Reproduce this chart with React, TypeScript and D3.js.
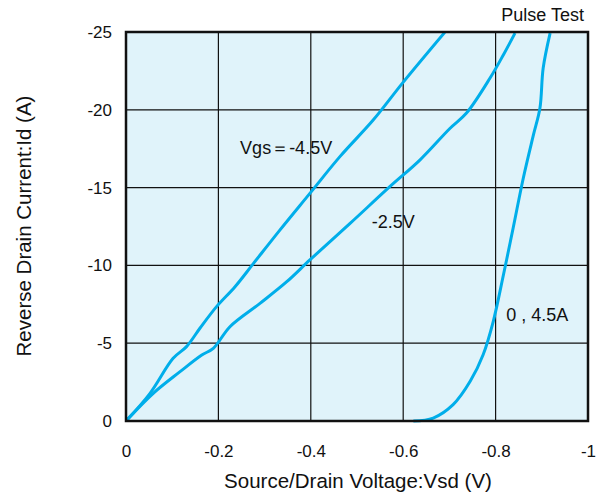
import { useRef, useEffect } from 'react'
import * as d3 from 'd3'

// [Vsd (V), Id (A)]
const vgs45: [number, number][] = [
  [0, 0], [-0.052, -1.78], [-0.102, -4.03], [-0.131, -4.78], [-0.16, -5.96], [-0.196, -7.35],
  [-0.236, -8.63], [-0.276, -10.13], [-0.333, -12.27], [-0.398, -14.63], [-0.463, -16.99],
  [-0.535, -19.34], [-0.598, -21.7], [-0.69, -24.98],
]
const vgs25: [number, number][] = [
  [0, 0], [-0.059, -1.78], [-0.117, -3.17], [-0.164, -4.24], [-0.189, -4.67], [-0.225, -6.06],
  [-0.29, -7.56], [-0.348, -8.95], [-0.398, -10.35], [-0.485, -12.7], [-0.571, -15.06],
  [-0.636, -16.77], [-0.701, -18.8], [-0.737, -19.79], [-0.788, -22.04], [-0.817, -23.54],
  [-0.842, -24.93],
]
const vgs0: [number, number][] = [
  [-0.622, 0], [-0.665, -0.19], [-0.708, -1.05], [-0.745, -2.55], [-0.773, -4.26],
  [-0.795, -6.41], [-0.817, -9.4], [-0.838, -12.4], [-0.86, -15.62], [-0.882, -18.4],
  [-0.896, -20.12], [-0.903, -22.69], [-0.918, -24.93],
]

const xTicks = [0, -0.2, -0.4, -0.6, -0.8, -1]
const yTicks = [0, -5, -10, -15, -20, -25]

const labels = [
  { text: 'Vgs＝-4.5V', x: -0.247, y: -17.16 },
  { text: '-2.5V', x: -0.532, y: -12.4 },
  { text: '0 , 4.5A', x: -0.823, y: -6.43 },
]

const FONT = 'Liberation Sans, Arial, sans-serif'
const BLUE = '#00aeea'

export default function App() {
  const svgRef = useRef<SVGSVGElement>(null)

  useEffect(() => {
    if (!svgRef.current) return
    const svg = d3.select(svgRef.current)
    svg.selectAll('*').remove()

    const width = 603
    const height = 497
    const margin = { top: 32, right: 15, bottom: 76, left: 126 }
    const innerW = width - margin.left - margin.right
    const innerH = height - margin.top - margin.bottom

    svg.attr('width', width).attr('height', height)
    const g = svg.append('g').attr('transform', `translate(${margin.left},${margin.top})`)

    const x = d3.scaleLinear().domain([0, -1]).range([0, innerW])
    const y = d3.scaleLinear().domain([0, -25]).range([innerH, 0])

    g.append('rect')
      .attr('width', innerW)
      .attr('height', innerH)
      .attr('fill', '#e0f3fa')

    // Grid
    g.selectAll('.gx')
      .data(xTicks)
      .enter()
      .append('line')
      .attr('x1', (d) => x(d))
      .attr('x2', (d) => x(d))
      .attr('y1', 0)
      .attr('y2', innerH)
      .attr('stroke', '#111')
      .attr('stroke-width', 1.2)
    g.selectAll('.gy')
      .data(yTicks)
      .enter()
      .append('line')
      .attr('x1', 0)
      .attr('x2', innerW)
      .attr('y1', (d) => y(d))
      .attr('y2', (d) => y(d))
      .attr('stroke', '#111')
      .attr('stroke-width', 1.2)

    // Tick labels
    g.append('g')
      .attr('transform', `translate(0,${innerH})`)
      .call(d3.axisBottom(x).tickValues(xTicks).tickFormat((d) => `${d}`).tickSize(0).tickPadding(24))
      .call((a) => a.select('.domain').remove())
      .selectAll('text')
      .attr('fill', '#111')
      .attr('font-size', '17px')
      .attr('font-family', FONT)

    g.append('g')
      .call(d3.axisLeft(y).tickValues(yTicks).tickFormat((d) => `${d}`).tickSize(0).tickPadding(14))
      .call((a) => a.select('.domain').remove())
      .selectAll('text')
      .attr('fill', '#111')
      .attr('font-size', '17px')
      .attr('font-family', FONT)

    const line = d3
      .line<[number, number]>()
      .x((d) => x(d[0]))
      .y((d) => y(d[1]))
      .curve(d3.curveCatmullRom)

    const clip = g.append('clipPath').attr('id', 'plot-clip')
    clip.append('rect').attr('width', innerW).attr('height', innerH + 2)

    ;[vgs45, vgs25, vgs0].forEach((data) => {
      g.append('path')
        .datum(data)
        .attr('fill', 'none')
        .attr('stroke', BLUE)
        .attr('stroke-width', 3)
        .attr('stroke-linejoin', 'round')
        .attr('clip-path', 'url(#plot-clip)')
        .attr('d', line)
    })

    // Frame
    g.append('rect')
      .attr('width', innerW)
      .attr('height', innerH)
      .attr('fill', 'none')
      .attr('stroke', '#111')
      .attr('stroke-width', 2.5)

    labels.forEach((l) => {
      g.append('text')
        .attr('x', x(l.x))
        .attr('y', y(l.y))
        .attr('fill', '#111')
        .attr('font-size', '18px')
        .attr('font-family', FONT)
        .text(l.text)
    })

    g.append('text')
      .attr('x', innerW - 4)
      .attr('y', -11)
      .attr('text-anchor', 'end')
      .attr('fill', '#111')
      .attr('font-size', '18px')
      .attr('font-family', FONT)
      .text('Pulse Test')

    svg.append('text')
      .attr('x', 358)
      .attr('y', 488)
      .attr('text-anchor', 'middle')
      .attr('fill', '#111')
      .attr('font-size', '20.5px')
      .attr('font-family', FONT)
      .text('Source/Drain Voltage:Vsd (V)')

    svg.append('text')
      .attr('transform', 'translate(31,226) rotate(-90)')
      .attr('text-anchor', 'middle')
      .attr('fill', '#111')
      .attr('font-size', '20.5px')
      .attr('font-family', FONT)
      .text('Reverse Drain Current:Id (A)')
  }, [])

  return (
    <div style={{ position: 'absolute', left: 0, top: 0, background: '#fff' }}>
      <svg ref={svgRef} style={{ display: 'block' }} />
    </div>
  )
}
